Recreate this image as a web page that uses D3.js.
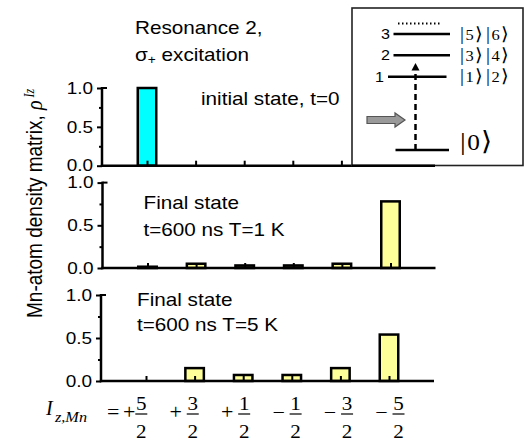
<!DOCTYPE html>
<html>
<head>
<meta charset="utf-8">
<script src="https://cdn.jsdelivr.net/npm/d3@7/dist/d3.min.js"></script>
<style>
  html, body { margin: 0; padding: 0; background: #fff; }
  svg { display: block; }
  .sans { font-family: "Liberation Sans", Arial, sans-serif; fill: #000; }
  .serif { font-family: "Liberation Serif", "Times New Roman", "DejaVu Serif", serif; fill: #000; }
</style>
</head>
<body>
<svg id="chart" width="531" height="443"></svg>
<script>
// ---------- data ----------
const categories = ["+5/2", "+3/2", "+1/2", "-1/2", "-3/2", "-5/2"];
const signLabels = ["+", "+", "+", "\u2212", "\u2212", "\u2212"];
const numeratorLabels = ["5", "3", "1", "1", "3", "5"];
const denominatorLabels = ["2", "2", "2", "2", "2", "2"];
const initialValues = [1.0, 0, 0, 0, 0, 0];
const final1KValues = [0.015, 0.05, 0.03, 0.03, 0.05, 0.78];
const final5KValues = [0, 0.15, 0.07, 0.07, 0.15, 0.54];
const majorTicks = [0, 0.5, 1.0];
const minorTicks = [0.25, 0.75];
const titleLines = ["Resonance 2,", "excitation"];
const panel1Label = ["initial state, t=0"];
const panel2Label = ["Final state", "t=600 ns T=1 K"];
const panel3Label = ["Final state", "t=600 ns T=5 K"];
const yAxisLabel = "Mn-atom density matrix, ";
const levelNumbers = ["3", "2", "1"];
const levelKets = [["5", "6"], ["3", "4"], ["1", "2"]];
const groundKet = "0";

// ---------- drawing ----------
const svg = d3.select("#chart");
const SX = 1.15; // horizontal stretch of the original figure's lettering

function stext(g, x, y, str, size, cls, anchor) {
  return g.append("text")
    .attr("class", cls || "sans")
    .attr("transform", `translate(${x},${y}) scale(${SX},1)`)
    .attr("font-size", size)
    .attr("text-anchor", anchor || "start")
    .text(str);
}

const xLeft = 102, xRight = 435;
const panels = [
  { values: initialValues, color: "#00ffff", y0: 165.7, y1: 88, dx: 0 },
  { values: final1KValues, color: "#ffff99", y0: 268, y1: 182.6, dx: 0.5 },
  { values: final5KValues, color: "#ffff99", y0: 381, y1: 295, dx: -1 }
];

const x = d3.scalePoint().domain(categories).range([147, 390]);
const barW = 18.5;

panels.forEach((p, pi) => {
  const y = d3.scaleLinear().domain([0, 1]).range([p.y0, p.y1]);
  const g = svg.append("g").attr("transform", `translate(${p.dx},0)`);

  g.selectAll("rect.bar")
    .data(categories.map((c, i) => ({ c, v: p.values[i] })).filter(d => d.v > 0))
    .enter().append("rect")
    .attr("class", "bar")
    .attr("x", d => x(d.c) - barW / 2)
    .attr("width", barW)
    .attr("y", d => y(d.v))
    .attr("height", d => y(0) - y(d.v))
    .attr("fill", p.color)
    .attr("stroke", "#000")
    .attr("stroke-width", 2.5);

  const yAx = g.append("g").attr("transform", `translate(${xLeft},0)`)
    .call(d3.axisLeft(y).tickValues(majorTicks).tickSize(5).tickPadding(4)
      .tickFormat(d3.format(".1f")));
  yAx.select(".domain").remove();
  yAx.selectAll(".tick line").attr("stroke", "#000").attr("stroke-width", 2);
  yAx.selectAll(".tick text")
    .attr("class", "sans")
    .attr("font-size", 16.5)
    .attr("font-family", null)
    .each(function() {
      const t = d3.select(this);
      const xx = +t.attr("x");
      t.attr("x", null).attr("transform", `translate(${xx},0) scale(${SX},1)`);
    });
  g.append("line")
    .attr("x1", xLeft).attr("x2", xLeft + 5)
    .attr("y1", y(1)).attr("y2", y(1))
    .attr("stroke", "#000").attr("stroke-width", 2);
  const yMin = g.append("g").attr("transform", `translate(${xLeft},0)`)
    .call(d3.axisLeft(y).tickValues(minorTicks).tickSize(3).tickFormat(""));
  yMin.select(".domain").remove();
  yMin.selectAll(".tick line").attr("stroke", "#000").attr("stroke-width", 2);

  g.append("line")
    .attr("x1", xLeft).attr("x2", xLeft)
    .attr("y1", y(1) - 1).attr("y2", y(0) + 1.2)
    .attr("stroke", "#000").attr("stroke-width", 2.5);

  const xAx = g.append("g").attr("transform", `translate(0,${y(0)})`)
    .call(d3.axisBottom(x).tickSize(-5).tickFormat(""));
  xAx.select(".domain").remove();
  xAx.selectAll(".tick line").attr("stroke", "#000").attr("stroke-width", 2);
  g.append("line")
    .attr("x1", xLeft - 1.2).attr("x2", xRight)
    .attr("y1", y(0)).attr("y2", y(0))
    .attr("stroke", "#000").attr("stroke-width", 2.5);
});

// ---------- panel annotations ----------
stext(svg, 135, 33.5, titleLines[0], 18);
const sig = svg.append("text").attr("class", "sans")
  .attr("transform", `translate(135,61) scale(${SX},1)`)
  .attr("font-size", 18);
sig.append("tspan").text("\u03c3");
sig.append("tspan").attr("font-size", 12).attr("dy", 3).text("+");
sig.append("tspan").attr("dy", -3).text(" " + titleLines[1]);

stext(svg, 201, 105, panel1Label[0], 18);
stext(svg, 143.5, 209, panel2Label[0], 18);
stext(svg, 143.5, 236, panel2Label[1], 18);
stext(svg, 137, 305.5, panel3Label[0], 18);
stext(svg, 137, 331, panel3Label[1], 18);

// y-axis title
const yl = svg.append("text").attr("class", "sans")
  .attr("transform", `translate(42,318) scale(${SX},1) rotate(-90)`)
  .attr("font-size", 19);
yl.append("tspan").text(yAxisLabel);
yl.append("tspan").attr("font-style", "italic").attr("font-family", "'Liberation Serif', serif")
  .attr("font-size", 20).text("\u03c1");
yl.append("tspan").attr("font-style", "italic").attr("font-family", "'Liberation Serif', serif")
  .attr("font-size", 12).attr("dy", -7).attr("dx", 3).text("Iz");

// ---------- x-axis category labels (fractions) ----------
const xl = d3.scalePoint().domain(categories).range([141.3, 398.5]);
const lab = svg.append("g");
lab.append("text").attr("class", "serif").attr("font-style", "italic")
  .attr("x", 46).attr("y", 415).attr("font-size", 20).text("I");
lab.append("text").attr("class", "serif").attr("font-style", "italic")
  .attr("transform", "translate(55,421.5) scale(1.12,1)").attr("font-size", 14.5).text("z,Mn");
lab.append("text").attr("class", "serif")
  .attr("transform", "translate(107,419) scale(1.1,1)").attr("font-size", 20).text("=");

categories.forEach((c, i) => {
  const cx = xl(c);
  const off = i === 0 ? 12 : 17;
  lab.append("text").attr("class", "serif")
    .attr("transform", `translate(${cx - off},419) scale(1.1,1)`).attr("font-size", 20)
    .attr("text-anchor", "middle").text(signLabels[i]);
  lab.append("text").attr("class", "serif")
    .attr("transform", `translate(${cx},410) scale(1.08,1)`).attr("font-size", 19.5)
    .attr("text-anchor", "middle").text(numeratorLabels[i]);
  lab.append("line")
    .attr("x1", cx - 6).attr("x2", cx + 6).attr("y1", 414).attr("y2", 414)
    .attr("stroke", "#000").attr("stroke-width", 1.2);
  lab.append("text").attr("class", "serif")
    .attr("transform", `translate(${cx},437.5) scale(1.08,1)`).attr("font-size", 19.5)
    .attr("text-anchor", "middle").text(denominatorLabels[i]);
});

// ---------- inset energy-level diagram ----------
const ins = svg.append("g");
ins.append("rect")
  .attr("x", 352).attr("y", 8).attr("width", 171).attr("height", 157.5)
  .attr("fill", "#fff").attr("stroke", "#222").attr("stroke-width", 1.6);
ins.append("line").attr("x1", 352).attr("x2", xRight).attr("y1", 165.7).attr("y2", 165.7)
  .attr("stroke", "#000").attr("stroke-width", 2.5);

const levelY = d3.scalePoint().domain(levelNumbers).range([34, 76.7]);
const levelX1 = { "3": 393.5, "2": 393.5, "1": 388 };
const levelX2 = { "3": 450, "2": 450, "1": 446.5 };
const numRight = { "3": 390, "2": 390, "1": 384 };

ins.append("line").attr("x1", 398).attr("x2", 442).attr("y1", 23.5).attr("y2", 23.5)
  .attr("stroke", "#000").attr("stroke-width", 1.8).attr("stroke-dasharray", "1.5,2.5");

function ket(parent, xPos, yPos, label, size, bsize) {
  const t = parent.append("text").attr("class", "serif")
    .attr("transform", `translate(${xPos},${yPos}) scale(1.1,1)`).attr("font-size", size);
  t.append("tspan").attr("font-size", bsize).text("|");
  t.append("tspan").attr("dx", 1.5).text(label);
  t.append("tspan").attr("dx", 1).attr("font-family", "'DejaVu Serif', serif")
    .attr("font-size", bsize).text("\u27e9");
  return t;
}

levelNumbers.forEach((n, i) => {
  const ly = levelY(n);
  ins.append("line").attr("x1", levelX1[n]).attr("x2", levelX2[n]).attr("y1", ly).attr("y2", ly)
    .attr("stroke", "#000").attr("stroke-width", 2.5);
  stext(ins, numRight[n], ly + 5, n, 14, "sans", "end");
  ket(ins, 460, ly + 5.5, levelKets[i][0], 15, 18);
  ket(ins, 486, ly + 5.5, levelKets[i][1], 15, 18);
});

ins.append("line").attr("x1", 395.5).attr("x2", 449).attr("y1", 150).attr("y2", 150)
  .attr("stroke", "#000").attr("stroke-width", 2.5);
ket(ins, 460, 150, groundKet, 23, 26);

ins.append("line").attr("x1", 415.5).attr("x2", 415.5).attr("y1", 150).attr("y2", 70)
  .attr("stroke", "#000").attr("stroke-width", 2.5).attr("stroke-dasharray", "6,4");
ins.append("path")
  .attr("d", "M411.5,70.5 L419.5,70.5 L415.5,63 Z").attr("fill", "#000");

ins.append("path")
  .attr("d", "M367,116.5 L395,116.5 L395,113 L405,120 L395,127 L395,123.5 L367,123.5 Z")
  .attr("fill", "#9a9a9a").attr("stroke", "#555").attr("stroke-width", 1.2);
</script>
</body>
</html>
